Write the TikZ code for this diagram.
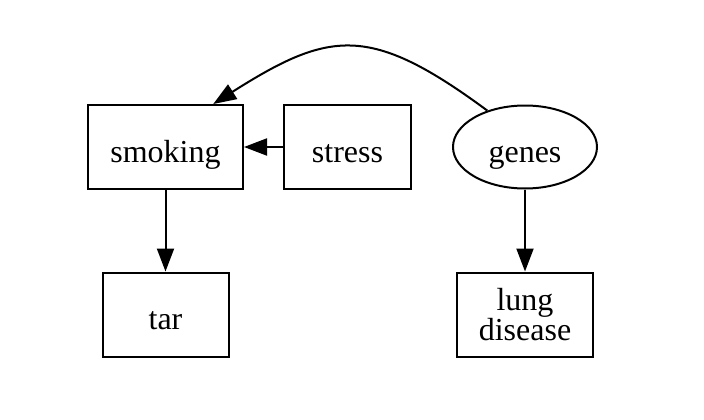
\documentclass[tikz,border=0pt]{standalone}
\usepackage{fontspec}
\setmainfont{Liberation Serif}
\usetikzlibrary{arrows.meta,shapes.geometric}
\begin{document}
\begin{tikzpicture}[x=1pt,y=-1pt, line width=2pt,
  every node/.style={font=\fontsize{32}{32}\selectfont, line width=2pt, inner sep=0pt},
  box/.style={draw, rectangle, minimum height=84pt, text height=30pt, text depth=0pt},
  oval/.style={draw, ellipse, minimum width=144pt, minimum height=83pt, text height=30pt, text depth=0pt},
  edge/.style={line width=2pt, -{Triangle[length=23pt,width=17pt]}}]
\useasboundingbox (0,0) rectangle (704,420);
\node[box, minimum width=155pt] (smoking) at (165.5,147) {smoking};
\node[box, minimum width=127pt] (stress) at (347.5,147) {stress};
\node[oval] (genes) at (525,147) {genes};
\node[box, minimum width=126pt] (tar) at (165.5,314.5) {tar};
\node[draw, rectangle, minimum width=136pt, minimum height=84pt, align=center] (lung) at (525,314.5) {\raisebox{-2pt}{lung}\\disease};
\draw[edge] (smoking.south) -- (tar.north);
\draw[edge] (stress.west) -- (smoking.east);
\draw[edge] (genes.south) -- (lung.north);
\draw[edge] (genes.136) .. controls (370,24) and (330,30) .. (smoking.42);
\end{tikzpicture}
\end{document}
